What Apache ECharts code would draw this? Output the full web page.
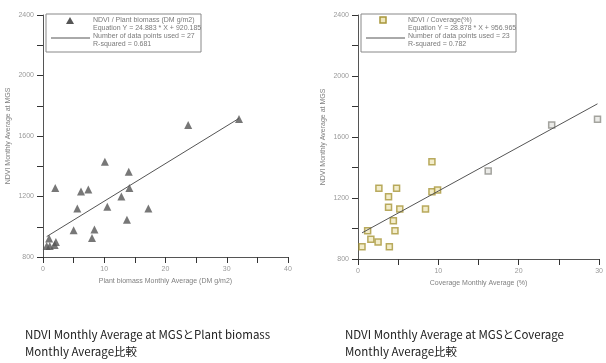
<!DOCTYPE html>
<html>
<head>
<meta charset="utf-8">
<script src="https://cdn.jsdelivr.net/npm/echarts@6/dist/echarts.min.js"></script>
<style>
  html, body { margin: 0; padding: 0; background: #fff; }
  #chart { width: 606px; height: 363px; }
</style>
</head>
<body>
<div id="chart"></div>
<script>
// left panel: NDVI vs plant biomass
const biomassX = [10.1, 14.0, 2.0, 6.2, 7.4, 14.1, 12.8, 5.6, 10.5, 17.2, 13.7, 5.0, 8.4, 8.0, 1.0, 2.1, 1.9, 0.6, 1.1, 23.7, 32.0];
const biomassNdvi = [1429, 1364, 1257, 1233, 1246, 1257, 1200, 1121, 1132, 1121, 1047, 977, 982, 925, 923, 900, 879, 872, 872, 1673, 1712];
const biomassFit = [24.883, 920.185]; // slope, intercept

// right panel: NDVI vs coverage
const coverageX = [9.2, 16.2, 2.6, 4.8, 3.8, 9.2, 9.9, 3.8, 5.2, 8.4, 4.4, 4.6, 1.2, 1.6, 2.5, 0.5, 3.9, 24.1, 29.8];
const coverageNdvi = [1438, 1377, 1264, 1264, 1209, 1241, 1252, 1139, 1128, 1128, 1051, 986, 986, 929, 911, 881, 881, 1679, 1716];
const coverageFit = [28.878, 956.965];
const coverageFaded = [1, 17, 18]; // points that print greyish in the scan

const ndviTicks = [800, 2400, 400];
const biomassTicks = [0, 40, 10];
const coverageTicks = [0, 30, 10];

const legendLeft = ['NDVI / Plant biomass (DM g/m2)', 'Equation Y = 24.883 * X + 920.185', 'Number of data points used = 27', 'R-squared = 0.681'];
const legendRight = ['NDVI / Coverage(%)', 'Equation Y = 28.878 * X + 956.965', 'Number of data points used = 23', 'R-squared = 0.782'];
const captions = [
  'NDVI Monthly Average at MGSとPlant biomass\nMonthly Average比較',
  'NDVI Monthly Average at MGSとCoverage\nMonthly Average比較'
];

const pairs = (xs, ys) => xs.map((x, i) => [x, ys[i]]);
const fitLine = (xs, fit) => {
  const lo = Math.min(...xs), hi = Math.max(...xs);
  return [[lo, fit[0] * lo + fit[1]], [hi, fit[0] * hi + fit[1]]];
};

const font = 'Liberation Sans';
const capFont = 'Noto Sans CJK JP';

function valueAxis(idx, ticks, name, gap) {
  return {
    type: 'value', gridIndex: idx,
    min: ticks[0], max: ticks[1], interval: ticks[2],
    name: name, nameLocation: 'middle', nameGap: gap,
    nameTextStyle: { color: '#808080', fontSize: 7, fontFamily: font },
    axisLine: { show: true, onZero: false, lineStyle: { color: '#555', width: 1 } },
    axisTick: { show: true, length: 6, lineStyle: { color: '#333' } },
    minorTick: { show: true, splitNumber: 2, length: 6, lineStyle: { color: '#333' } },
    splitLine: { show: false },
    axisLabel: { margin: 9, color: '#9a9a9a', fontSize: 7, fontFamily: font, formatter: v => String(v) }
  };
}

function legendBox(x, y, lines, marker) {
  const children = [
    { type: 'rect', shape: { x: x, y: y, width: 155, height: 38 },
      style: { fill: '#fff', stroke: '#888', lineWidth: 1 } },
    { type: 'line', shape: { x1: x + 5, y1: y + 24, x2: x + 44, y2: y + 24 },
      style: { stroke: '#555', lineWidth: 1 } },
    marker
  ];
  lines.forEach((t, i) => {
    children.push({ type: 'text', x: x + 47, y: y + 3 + i * 8,
      style: { text: t, fill: '#7a7a7a', fontSize: 7, fontFamily: font } });
  });
  return { type: 'group', children: children };
}

const captionStyle = { color: '#222', fontSize: 11.5, fontWeight: 'normal', lineHeight: 17, fontFamily: capFont };

const chart = echarts.init(document.getElementById('chart'));

chart.setOption({
  backgroundColor: '#fff',
  animation: false,
  grid: [
    { left: 43, top: 15, width: 245, height: 242 },
    { left: 358, top: 15, width: 243, height: 244 }
  ],
  xAxis: [
    valueAxis(0, biomassTicks, 'Plant biomass Monthly Average (DM g/m2)', 21),
    valueAxis(1, coverageTicks, 'Coverage Monthly Average (%)', 21)
  ],
  yAxis: [
    valueAxis(0, ndviTicks, 'NDVI Monthly Average at MGS', 31),
    valueAxis(1, ndviTicks, 'NDVI Monthly Average at MGS', 31)
  ],
  title: [
    { text: captions[0], left: 20, top: 321, textStyle: captionStyle },
    { text: captions[1], left: 340, top: 321, textStyle: captionStyle }
  ],
  graphic: [
    legendBox(46, 14, legendLeft,
      { type: 'polygon', shape: { points: [[70, 17], [74, 24], [66, 24]] }, style: { fill: '#555' } }),
    legendBox(361, 14, legendRight,
      { type: 'rect', shape: { x: 380, y: 17, width: 6, height: 6 },
        style: { fill: '#efe7bd', stroke: '#a8963a', lineWidth: 1.5 } })
  ],
  series: [
    {
      type: 'scatter', xAxisIndex: 0, yAxisIndex: 0,
      symbol: 'triangle', symbolSize: 8,
      itemStyle: { color: '#555' },
      data: pairs(biomassX, biomassNdvi)
    },
    {
      type: 'line', xAxisIndex: 0, yAxisIndex: 0,
      symbol: 'none', lineStyle: { color: '#555', width: 1 },
      data: fitLine(biomassX, biomassFit)
    },
    {
      type: 'scatter', xAxisIndex: 1, yAxisIndex: 1,
      symbol: 'rect', symbolSize: 6,
      itemStyle: { color: '#efe7bd', borderColor: '#a8963a', borderWidth: 1.5 },
      data: pairs(coverageX, coverageNdvi).map((p, i) => coverageFaded.includes(i)
        ? { value: p, itemStyle: { color: '#e6e6e2', borderColor: '#8e8e88' } }
        : p)
    },
    {
      type: 'line', xAxisIndex: 1, yAxisIndex: 1,
      symbol: 'none', lineStyle: { color: '#555', width: 1 },
      data: fitLine(coverageX, coverageFit)
    }
  ]
});
</script>
</body>
</html>
